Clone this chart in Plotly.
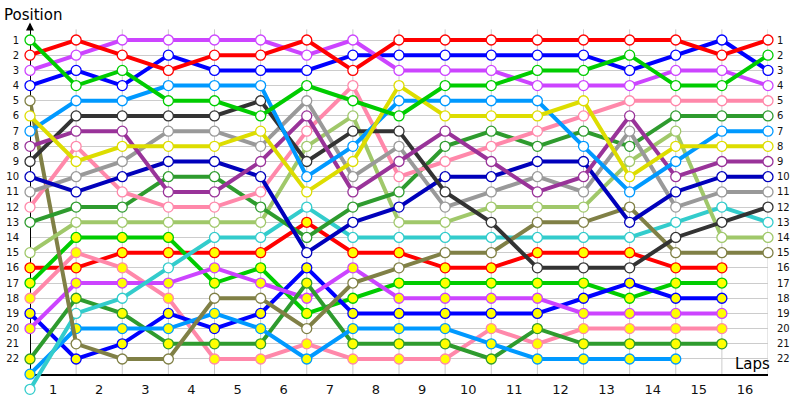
import plotly.graph_objects as go

laps = list(range(17))
x_tick_text = [str(i) for i in range(1, 17)]
positions = list(range(1, 23))

# White-marker cars
green_a = [1, 4, 3, 5, 5, 6, 4, 5, 6, 4, 4, 3, 3, 2, 4, 4, 2]
red_a = [2, 1, 2, 3, 2, 2, 1, 3, 1, 1, 1, 1, 1, 1, 1, 2, 1]
purple_a = [3, 2, 1, 1, 1, 1, 2, 1, 3, 3, 3, 4, 4, 4, 3, 3, 4]
blue_a = [4, 3, 4, 2, 3, 3, 3, 2, 2, 2, 2, 2, 2, 3, 2, 1, 3]
olive = [5, 21, 22, 22, 18, 18, 20, 17, 16, 15, 15, 13, 13, 12, 15, 15, 15]
yellow = [6, 9, 8, 8, 8, 7, 11, 9, 4, 6, 6, 6, 5, 10, 8, 8, 8]
lightblue_a = [7, 5, 5, 4, 4, 4, 10, 8, 5, 5, 5, 5, 8, 11, 9, 7, 7]
darkpurple = [8, 7, 7, 11, 11, 9, 6, 11, 9, 7, 9, 11, 10, 6, 10, 9, 9]
black = [9, 6, 6, 6, 6, 5, 9, 7, 7, 11, 13, 16, 16, 16, 14, 13, 12]
navy = [10, 11, 10, 9, 9, 10, 15, 13, 12, 10, 10, 9, 9, 13, 11, 10, 10]
gray = [11, 10, 9, 7, 7, 8, 5, 10, 8, 12, 11, 10, 11, 7, 12, 11, 11]
pink_a = [12, 8, 11, 12, 12, 11, 7, 4, 10, 9, 8, 7, 6, 5, 5, 5, 5]
darkgreen_a = [13, 12, 12, 10, 10, 12, 14, 12, 11, 8, 7, 8, 7, 8, 6, 6, 6]
lightgreen = [15, 13, 13, 13, 13, 13, 8, 6, 13, 13, 12, 12, 12, 9, 7, 14, 14]
cyan = [24, 19, 18, 16, 14, 14, 12, 14, 14, 14, 14, 14, 14, 14, 13, 12, 13]

# Yellow-marker cars
red_b = [16, 16, 15, 15, 15, 15, 13, 15, 15, 16, 16, 15, 15, 15, 16, 16, None]
green_b = [17, 14, 14, 14, 17, 16, 19, 18, 17, 17, 17, 17, 17, 18, 17, 17, None]
pink_b = [18, 15, 16, 18, 22, 22, 21, 22, 22, 22, 20, 21, 20, 20, 20, 20, None]
blue_b = [19, 22, 21, 19, 20, 19, 16, 19, 19, 19, 19, 19, 18, 17, 18, 18, None]
purple_b = [20, 17, 17, 17, 16, 17, 18, 16, 18, 18, 18, 18, 19, 19, 19, 19, None]
darkgreen_b = [22, 18, 19, 21, 21, 21, 17, 21, 21, 21, 22, 20, 21, 21, 21, 21, None]
lightblue_b = [23, 20, 20, 20, 19, 20, 22, 20, 20, 20, 21, 22, 22, 22, 22, None, None]

C_RED = "#FF0000"
C_PURPLE = "#CC44FF"
C_BLUE = "#0000FF"
C_GREEN = "#00CC00"
C_LBLUE = "#0099FF"
C_BLACK = "#333333"
C_GRAY = "#999999"
C_YELLOW = "#DDDD00"
C_DPURPLE = "#993399"
C_NAVY = "#0000BB"
C_PINK = "#FF88AA"
C_DGREEN = "#2E9B2E"
C_LGREEN = "#A0C86A"
C_OLIVE = "#808046"
C_CYAN = "#33CCCC"

series = [
    (red_b, C_RED, "#FFFF00"), (green_b, C_GREEN, "#FFFF00"), (pink_b, C_PINK, "#FFFF00"),
    (blue_b, C_BLUE, "#FFFF00"), (purple_b, C_PURPLE, "#FFFF00"),
    (darkgreen_b, C_DGREEN, "#FFFF00"), (lightblue_b, C_LBLUE, "#FFFF00"),
    (cyan, C_CYAN, "white"), (olive, C_OLIVE, "white"), (lightgreen, C_LGREEN, "white"),
    (darkgreen_a, C_DGREEN, "white"), (pink_a, C_PINK, "white"), (gray, C_GRAY, "white"),
    (navy, C_NAVY, "white"), (black, C_BLACK, "white"), (darkpurple, C_DPURPLE, "white"),
    (lightblue_a, C_LBLUE, "white"), (yellow, C_YELLOW, "white"), (blue_a, C_BLUE, "white"),
    (purple_a, C_PURPLE, "white"), (red_a, C_RED, "white"), (green_a, C_GREEN, "white"),
]

fig = go.Figure()
for ys, col, fill in series:
    fig.add_trace(go.Scatter(
        x=laps, y=ys, mode="lines+markers",
        line=dict(color=col, width=4),
        marker=dict(size=10, color=fill, line=dict(color=col, width=1.3)),
        cliponaxis=False, showlegend=False, hoverinfo="skip",
    ))

# geometry
W, H = 800, 400
mt, mb, ml, mr = 20, 2, 30, 32
py1, step = 40.0, 15.19
y_top = 1 - (py1 - mt) / step
y_bot = 1 + (H - mb - py1) / step
axis_pos = 23.05
paper_axis = (y_bot - axis_pos) / (y_bot - y_top)

tick_font = dict(family="DejaVu Sans", size=10, color="#111111")

fig.update_layout(
    width=W, height=H,
    margin=dict(l=ml, r=mr, t=mt, b=mb),
    plot_bgcolor="white", paper_bgcolor="white",
    xaxis=dict(
        range=[0, 16], tickvals=[i + 0.5 for i in range(16)], ticktext=x_tick_text,
        showgrid=False, zeroline=False, showline=False, ticks="",
        anchor="free", position=paper_axis, ticklabelstandoff=5,
        tickfont=dict(family="DejaVu Sans", size=13, color="#111111"),
    ),
    yaxis=dict(
        range=[y_bot, y_top], tickvals=positions, ticktext=[str(p) for p in positions],
        showgrid=True, gridcolor="#CCCCCC", gridwidth=1, zeroline=False,
        showline=False, ticks="", tickfont=tick_font, ticklabelstandoff=10,
    ),
    yaxis2=dict(
        range=[y_bot, y_top], tickvals=positions, ticktext=[str(p) for p in positions],
        overlaying="y", side="right", showgrid=False, zeroline=False,
        showline=False, ticks="", tickfont=tick_font, ticklabelstandoff=8,
    ),
)

# invisible trace to activate right axis
fig.add_trace(go.Scatter(x=[0], y=[1], yaxis="y2", mode="markers",
                         marker=dict(opacity=0), showlegend=False, hoverinfo="skip"))

shapes = []
for k in range(1, 17):
    shapes.append(dict(type="line", xref="x", yref="y", x0=k, x1=k, y0=0.3, y1=axis_pos,
                       line=dict(color="#CCCCCC", width=1), layer="below"))
shapes.append(dict(type="line", xref="x", yref="y", x0=0, x1=16.05, y0=axis_pos, y1=axis_pos,
                   line=dict(color="black", width=2), layer="between"))
shapes.append(dict(type="line", xref="x", yref="y", x0=0, x1=0, y0=axis_pos, y1=-0.05,
                   line=dict(color="black", width=2), layer="between"))
fig.update_layout(shapes=shapes)

fig.add_annotation(x=16.17, y=axis_pos, xref="x", yref="y", ax=-12, ay=0, text="",
                   showarrow=True, arrowhead=2, arrowsize=1, arrowwidth=2, arrowcolor="black")
fig.add_annotation(x=0, y=-0.15, xref="x", yref="y", ax=0, ay=6, text="",
                   showarrow=True, arrowhead=2, arrowsize=0.8, arrowwidth=2, arrowcolor="black")
fig.add_annotation(x=(2 - ml) / (W - ml - mr), y=(H - mb - 15) / (H - mt - mb),
                   xref="paper", yref="paper", text="Position", showarrow=False,
                   xanchor="left", yanchor="middle",
                   font=dict(family="DejaVu Sans", size=15, color="black"))
fig.add_annotation(x=(772 - ml) / (W - ml - mr), y=(H - mb - 364) / (H - mt - mb),
                   xref="paper", yref="paper", text="Laps", showarrow=False,
                   xanchor="right", yanchor="middle",
                   font=dict(family="DejaVu Sans", size=15, color="black"))

fig.write_html("out.html", config={"displayModeBar": False},
               post_script="document.body.style.margin='0';")
